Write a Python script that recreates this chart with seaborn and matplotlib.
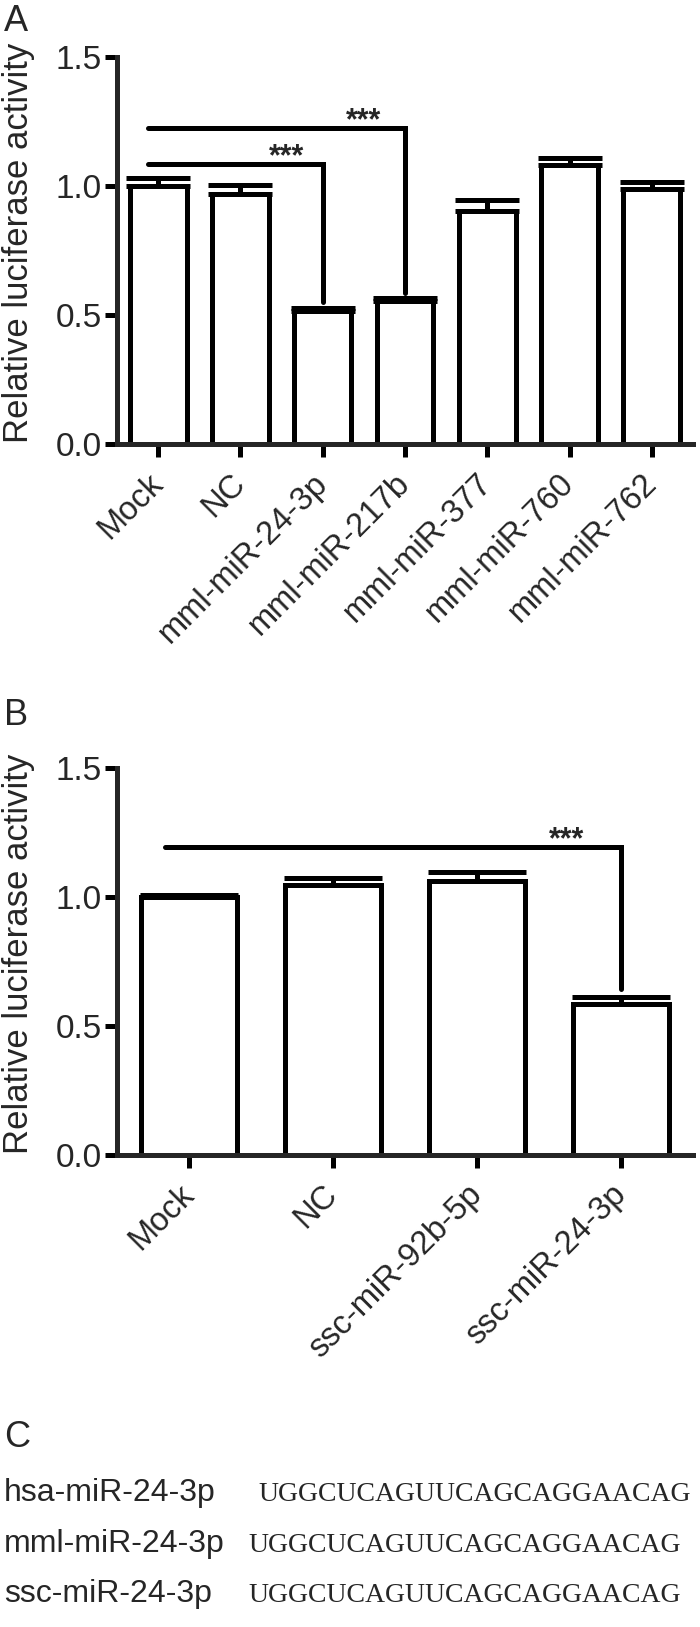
import numpy as np
import seaborn as sns
import matplotlib.pyplot as plt

# panel A data
a_labels = ['Mock', 'NC', 'mml-miR-24-3p', 'mml-miR-217b', 'mml-miR-377', 'mml-miR-760', 'mml-miR-762']
a_values = [1.00, 0.97, 0.515, 0.556, 0.905, 1.08, 0.988]
a_errors = [0.03, 0.035, 0.012, 0.009, 0.04, 0.029, 0.028]

# panel B data
b_labels = ['Mock', 'NC', 'ssc-miR-92b-5p', 'ssc-miR-24-3p']
b_values = [1.00, 1.045, 1.062, 0.585]
b_errors = [0.008, 0.028, 0.035, 0.027]

# significance brackets: (start, end, height, drop to, star x)
a_brackets = [(-0.12, 2, 1.085, 0.55, 1.56),
              (-0.12, 3, 1.225, 0.585, 2.5)]
b_brackets = [(-0.17, 3, 1.195, 0.645, 2.62)]

# panel C sequences
c_names = ['hsa-miR-24-3p', 'mml-miR-24-3p', 'ssc-miR-24-3p']
c_seqs = ['UGGCUCAGUUCAGCAGGAACAG'] * 3

sns.set_style('ticks')
plt.rcParams['font.family'] = ['Liberation Sans', 'DejaVu Sans']

W, H = 700, 1627
fig = plt.figure(figsize=(7, 16.27), dpi=100)
LW = 3.6


def panel(rect, labels, values, errors, brackets, capsize, width):
    ax = fig.add_axes(rect)
    sns.barplot(x=labels, y=values, color='white', edgecolor='black',
                linewidth=LW, width=width, saturation=1, errorbar=None, ax=ax)
    xs = np.arange(len(values))
    ax.errorbar(xs, values, yerr=[np.zeros(len(errors)), errors], fmt='none',
                ecolor='black', elinewidth=LW, capsize=capsize, capthick=LW, zorder=3)
    for x0, x1, h, d, sx in brackets:
        ax.plot([x0, x1, x1], [h, h, d], color='black', lw=LW,
                solid_capstyle='round', solid_joinstyle='miter', clip_on=False)
        ax.text(sx, h - 0.005, '***', ha='center', va='baseline', fontsize=22, fontweight='bold')
    ax.set_xlim(-0.5, len(values) - 0.5)
    ax.set_ylim(0, 1.5)
    ax.set_yticks([0, 0.5, 1.0, 1.5])
    ax.set_yticklabels(['0.0', '0.5', '1.0', '1.5'])
    ax.set_xticks(xs)
    ax.set_xticklabels(labels, rotation=45, ha='right', va='center',
                       rotation_mode='anchor', fontsize=23.5)
    sns.despine(ax=ax)
    for s in ['left', 'bottom']:
        ax.spines[s].set_linewidth(LW)
    ax.tick_params(width=LW, length=9, pad=2, color='black')
    ax.tick_params(axis='y', labelsize=24)
    ax.tick_params(axis='x', pad=16)
    ax.set_ylabel('Relative luciferase activity', fontsize=25)
    ax.yaxis.set_label_coords(-0.142, 0.52)
    return ax


panel([117 / W, 1 - 444 / H, 576 / W, 387 / H], a_labels, a_values, a_errors, a_brackets, 23, 0.69)
panel([117 / W, 1 - 1155 / H, 576 / W, 387 / H], b_labels, b_values, b_errors, b_brackets, 35, 0.67)

for letter, y in [('A', 4), ('B', 698), ('C', 1420)]:
    fig.text(4 / W, 1 - y / H, letter, fontsize=26, va='top', ha='left')

for name, seq, y, xs in zip(c_names, c_seqs, [1501, 1552, 1602], [258, 248, 248]):
    fig.text(4 / W, 1 - y / H, name, fontsize=23, va='baseline')
    fig.text(xs / W, 1 - y / H, seq, fontsize=20, va='baseline', family='Liberation Serif')

fig.savefig('out.png', dpi=100)
